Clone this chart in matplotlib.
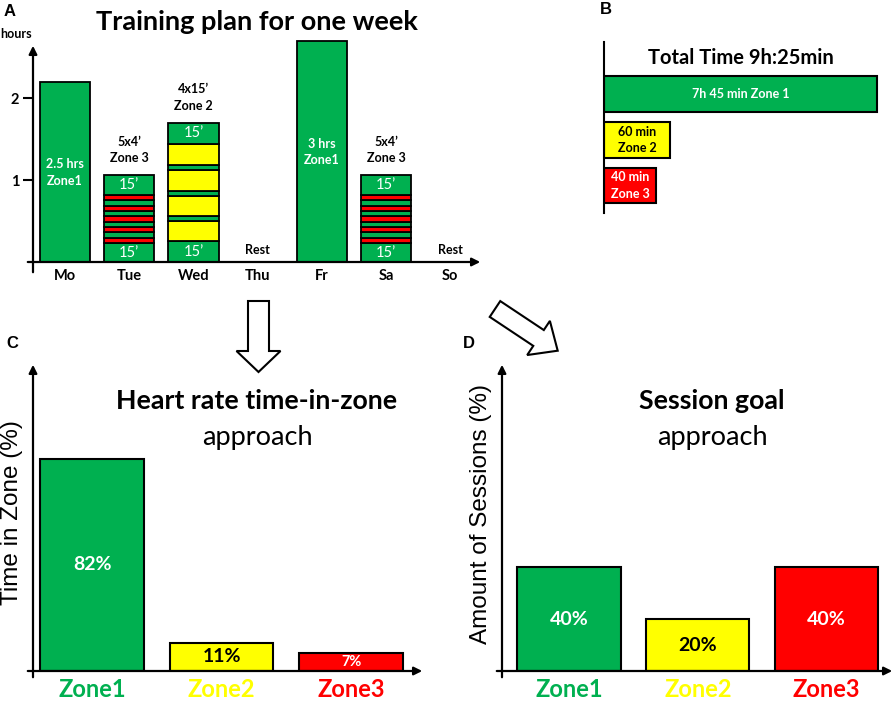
import numpy as np
import matplotlib.pyplot as plt
from matplotlib.patches import FancyArrow

plt.rcParams['font.family'] = ['Lato', 'DejaVu Sans']

W, H = 896, 702

GREEN = '#00B050'
YELLOW = '#FFFF00'
RED = '#FF0000'
zone_color = {1: GREEN, 2: YELLOW, 3: RED}

# A - training plan for one week: blocks per day (hours) and their zone
days = ['Mo', 'Tue', 'Wed', 'Thu', 'Fr', 'Sa', 'So']
mo_hours = [2.2]
mo_zones = [1]
tue_hours = [0.23, 0.065, 0.065, 0.065, 0.065, 0.065, 0.065, 0.065, 0.065, 0.065, 0.25]
tue_zones = [1, 3, 1, 3, 1, 3, 1, 3, 1, 3, 1]
wed_hours = [0.25, 0.25, 0.06, 0.25, 0.06, 0.25, 0.06, 0.26, 0.26]
wed_zones = [1, 2, 1, 2, 1, 2, 1, 2, 1]
fr_hours = [2.7]
fr_zones = [1]
sa_hours = [0.23, 0.065, 0.065, 0.065, 0.065, 0.065, 0.065, 0.065, 0.065, 0.065, 0.25]
sa_zones = [1, 3, 1, 3, 1, 3, 1, 3, 1, 3, 1]
week_hours = [mo_hours, tue_hours, wed_hours, [], fr_hours, sa_hours, []]
week_zones = [mo_zones, tue_zones, wed_zones, [], fr_zones, sa_zones, []]
inner_labels = ['2.5 hrs\nZone1', '', '', '', '3 hrs\nZone1', '', '']
inner_label_y = [1.09, 0, 0, 0, 1.34, 0, 0]
top_labels = ['', '5x4’\nZone 3', '4x15’\nZone 2', '', '', '5x4’\nZone 3', '']

# B - total time per zone
b_labels = ['7h 45 min Zone 1', '60 min\nZone 2', '40 min\nZone 3']
b_lengths = [465, 112, 89]   # drawn length (not to scale with the label)
b_zones = [1, 2, 3]
b_text = ['white', 'black', 'white']

# C / D
zones = ['Zone1', 'Zone2', 'Zone3']
time_in_zone = [82, 11, 7]
sessions = [40, 20, 40]
value_text = ['white', 'black', 'white']


def px_axes(x0, y0, x1, y1):
    return fig.add_axes([x0 / W, 1 - y1 / H, (x1 - x0) / W, (y1 - y0) / H])


def axis_arrows(ax, below, left):
    arr = dict(arrowstyle='-|>', lw=1.6, color='black', mutation_scale=12)
    ax.annotate('', xy=(0, 1), xytext=(0, -below), xycoords='axes fraction',
                arrowprops=arr, annotation_clip=False)
    ax.annotate('', xy=(1, 0), xytext=(-left, 0), xycoords='axes fraction',
                arrowprops=arr, annotation_clip=False)
    for s in ax.spines.values():
        s.set_visible(False)
    ax.patch.set_visible(False)


fig = plt.figure(figsize=(W / 100, H / 100), dpi=100)

# overlay in pixel coords for labels and block arrows
ov = fig.add_axes([0, 0, 1, 1])
ov.set_xlim(0, W)
ov.set_ylim(H, 0)
ov.axis('off')
ov.set_zorder(10)

# ---------- A ----------
axA = px_axes(33, 43, 483, 262)
axA.set_xlim(-0.5, 6.51)
axA.set_ylim(0, 219 / 82)
for i, (hs, zs) in enumerate(zip(week_hours, week_zones)):
    bottom = 0
    for h, z in zip(hs, zs):
        axA.bar(i, h, bottom=bottom, width=0.78, color=zone_color[z],
                edgecolor='black', linewidth=1.3, clip_on=False)
        bottom += h
    if len(hs) > 1:
        axA.text(i, hs[0] / 2, '15’', color='white', ha='center', va='center', fontsize=10.5)
        axA.text(i, bottom - hs[-1] / 2, '15’', color='white', ha='center', va='center', fontsize=10.5)
    if inner_labels[i]:
        axA.text(i, inner_label_y[i], inner_labels[i], color='white', ha='center', va='center',
                 fontsize=9, fontweight='bold', linespacing=1.45)
    if top_labels[i]:
        axA.text(i, bottom + 0.13, top_labels[i], ha='center', va='bottom',
                 fontsize=9, fontweight='bold', linespacing=1.45)
    if not hs:
        axA.text(i, 0.15, 'Rest', ha='center', va='center', fontsize=9, fontweight='bold')
axA.set_xticks(range(len(days)), days, fontsize=10.5, fontweight='bold')
axA.set_yticks([1, 2], ['1', '2'], fontsize=10.5, fontweight='bold')
axA.tick_params(axis='x', length=0, pad=5)
axA.tick_params(axis='y', length=7, width=1.5, pad=3)
axis_arrows(axA, 13 / 219, 8 / 450)

# ---------- B ----------
axB = px_axes(604, 42, 896, 213)
axB.barh(range(3), b_lengths, height=0.78, color=[zone_color[z] for z in b_zones],
         edgecolor='black', linewidth=1.5)
for i, (lab, L) in enumerate(zip(b_labels, b_lengths)):
    axB.text(L / 2, i, lab, color=b_text[i], ha='center', va='center',
             fontsize=9, fontweight='bold', linespacing=1.45)
axB.set_xlim(0, 497)
axB.set_ylim(2.60, -1.14)
axB.set_xticks([])
axB.set_yticks([])
for s in ['top', 'right', 'bottom']:
    axB.spines[s].set_visible(False)
axB.spines['left'].set_linewidth(1.5)
axB.patch.set_visible(False)

# ---------- C and D ----------
for (x0, x1, xl), vals in [((33, 425, (-0.456, 2.57)), time_in_zone),
                           ((502, 895, (-0.52, 2.53)), sessions)]:
    ax = px_axes(x0, 362, x1, 671)
    ax.bar(range(3), vals, width=0.8, color=[GREEN, YELLOW, RED],
           edgecolor='black', linewidth=1.5)
    for i, v in enumerate(vals):
        ax.text(i, v / 2, f'{v}%', color=value_text[i], ha='center', va='center',
                fontsize=10.5 if v < 10 else 14, fontweight='bold')
    ax.set_xlim(*xl)
    ax.set_ylim(0, 309 / 2.59)
    ax.set_xticks(range(3), zones, fontsize=17, fontweight='bold')
    for lab, c in zip(ax.get_xticklabels(), [GREEN, YELLOW, RED]):
        lab.set_color(c)
    ax.tick_params(axis='x', length=0, pad=5)
    ax.set_yticks([])
    axis_arrows(ax, 9 / 309, 8 / (x1 - x0))

# ---------- overlay text ----------
for lx, ly, letter in [(10, 12, 'A'), (606, 10, 'B'), (12, 343, 'C'), (469, 343, 'D')]:
    ov.text(lx, ly, letter, fontsize=12, fontweight='bold', ha='center', va='center',
            family='Liberation Sans')
ov.text(16, 34, 'hours', fontsize=9, fontweight='bold', ha='center', va='center')
ov.text(257, 22, 'Training plan for one week', fontsize=19.5, fontweight='bold',
        ha='center', va='center')
ov.text(741, 58, 'Total Time 9h:25min', fontsize=14.5, fontweight='bold',
        ha='center', va='center')
ov.text(257, 401, 'Heart rate time-in-zone', fontsize=19.3, fontweight='bold',
        ha='center', va='center')
ov.text(257, 437, 'approach', fontsize=19.5, ha='center', va='center')
ov.text(712, 401, 'Session goal', fontsize=19.3, fontweight='bold',
        ha='center', va='center')
ov.text(712, 437, 'approach', fontsize=19.5, ha='center', va='center')
ov.text(12, 513, 'Time in Zone (%)', fontsize=17.5, rotation=90, ha='center', va='center',
        family='Liberation Sans')
ov.text(481, 514, 'Amount of Sessions (%)', fontsize=17.5, rotation=90, ha='center',
        va='center', family='Liberation Sans')

# block arrows
ov.add_patch(FancyArrow(258.5, 301, 0, 71, width=21, head_width=44, head_length=21,
                        length_includes_head=True, fc='white', ec='black', lw=1.5))
ov.add_patch(FancyArrow(495, 309, 62.7, 41.7, width=19, head_width=41, head_length=23,
                        length_includes_head=True, fc='white', ec='black', lw=1.5))

fig.savefig('out.png', dpi=100)
